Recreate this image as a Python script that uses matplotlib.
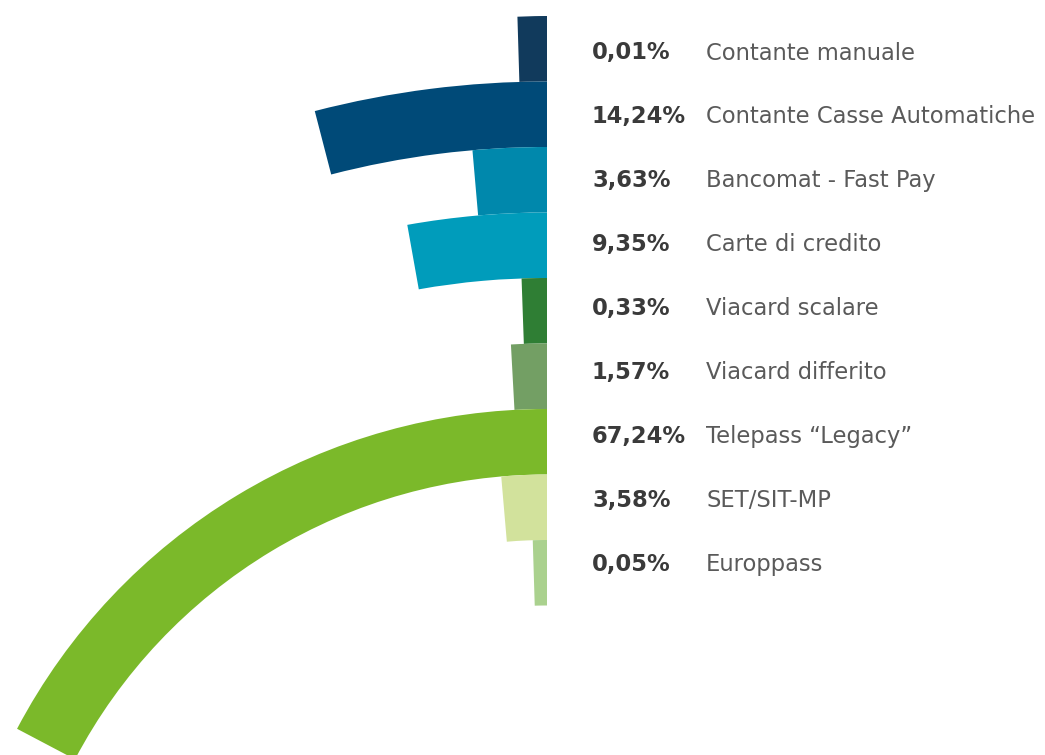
import numpy as np
import matplotlib
matplotlib.use("Agg")
import matplotlib.pyplot as plt

labels = ["Contante manuale", "Contante Casse Automatiche", "Bancomat - Fast Pay",
          "Carte di credito", "Viacard scalare", "Viacard differito",
          "Telepass \u201cLegacy\u201d", "SET/SIT-MP", "Europpass"]
shares = [0.01, 14.24, 3.63, 9.35, 0.33, 1.57, 67.24, 3.58, 0.05]
value_labels = ["0,01%", "14,24%", "3,63%", "9,35%", "0,33%", "1,57%", "67,24%", "3,58%", "0,05%"]
colors = ["#113a5c", "#004a78", "#0088ac", "#009cbb", "#2f7e34",
          "#739f64", "#7bb92a", "#d2e29c", "#aad18e"]

W, H = 1045, 755
fig = plt.figure(figsize=(W / 100, H / 100), dpi=100)

# polar axes whose centre sits below the figure (pixel coords, y from top)
cx, cy, R = 547, 1008, 992
ax = fig.add_axes([(cx - R) / W, (H - cy - R) / H, 2 * R / W, 2 * R / H], projection="polar")
ax.set_theta_zero_location("N")
ax.set_theta_direction(1)
ax.set_rlim(0, R)
ax.axis("off")

ring = 65.5
deg_per_pct = 0.9   # 100% -> quarter circle
base_deg = 1.7      # minimum visible sweep
for i, (v, c) in enumerate(zip(shares, colors)):
    outer = R - i * ring
    ax.bar(0, ring, width=np.deg2rad(base_deg + v * deg_per_pct), bottom=outer - ring,
           align="edge", color=c, linewidth=0)

for i, (vl, lab) in enumerate(zip(value_labels, labels)):
    y = 1 - (53 + 63.9 * i) / H
    fig.text(592 / W, y, vl, fontsize=16.3, fontweight="bold", family="DejaVu Sans",
             color="#3a3a3a", va="center", ha="left")
    fig.text(706 / W, y, lab, fontsize=16.3, family="DejaVu Sans",
             color="#5a5a5a", va="center", ha="left")

fig.savefig("out.png", dpi=100)
